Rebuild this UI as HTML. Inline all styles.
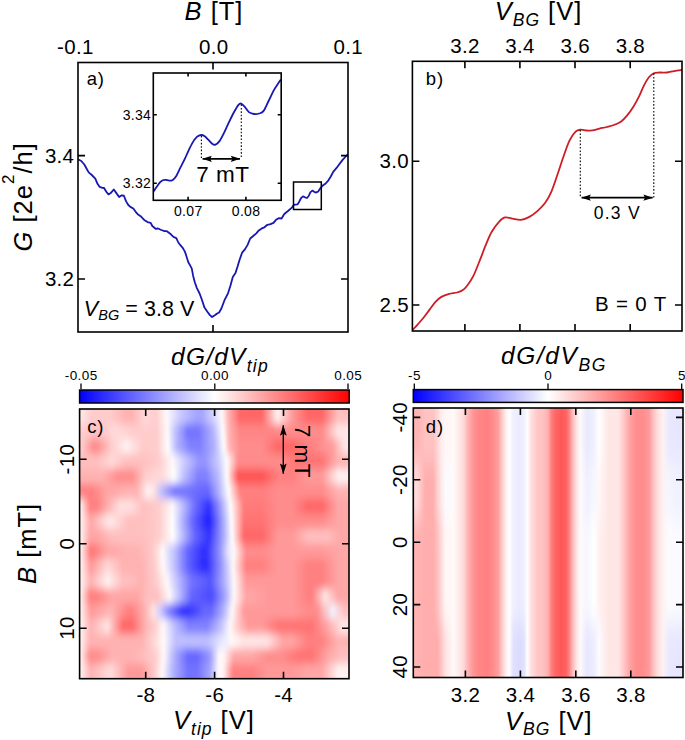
<!DOCTYPE html>
<html><head><meta charset="utf-8"><style>html,body{margin:0;padding:0;background:#fff;overflow:hidden}svg{display:block}</style></head>
<body><svg width="685" height="740" viewBox="0 0 685 740" font-family='"Liberation Sans", sans-serif'>
<defs>
<filter id="blurc" x="-5%" y="-5%" width="110%" height="110%"><feGaussianBlur stdDeviation="0.8 4.5"/></filter>
<clipPath id="clipc"><rect x="79.6" y="409" width="269.4" height="269.70000000000005"/></clipPath>
<filter id="blurd" x="-5%" y="-10%" width="110%" height="120%"><feGaussianBlur stdDeviation="0.5 12"/></filter>
<clipPath id="clipd"><rect x="413.3" y="408" width="269.7" height="269.5"/></clipPath>
<linearGradient id="cbg" x1="0" x2="1" y1="0" y2="0"><stop offset="0" stop-color="#0000ff"/><stop offset="0.5" stop-color="#ffffff"/><stop offset="1" stop-color="#ff0000"/></linearGradient>
<marker id="ah" viewBox="-11 -4 12 8" refX="0" refY="0" markerWidth="12" markerHeight="8" markerUnits="userSpaceOnUse" orient="auto-start-reverse"><path d="M0.3,0 L-9.2,-3.1 L-7.6,0 L-9.2,3.1 Z" fill="#000"/></marker>
<marker id="ahl" viewBox="-12 -4 13 8" refX="0" refY="0" markerWidth="13" markerHeight="8" markerUnits="userSpaceOnUse" orient="auto-start-reverse"><path d="M0.3,0 L-10.4,-3.4 L-8.4,0 L-10.4,3.4 Z" fill="#000"/></marker>
</defs>
<rect width="685" height="740" fill="#fff"/>
<text x="214" y="20" font-size="25.5" text-anchor="middle" letter-spacing="1.0" ><tspan font-style="italic">B</tspan> [T]</text>
<text x="75.35" y="54.3" font-size="20.5" text-anchor="middle" letter-spacing="0.3" >-0.1</text>
<text x="213.75" y="54.3" font-size="20.5" text-anchor="middle" letter-spacing="0.3" >0.0</text>
<text x="348.15" y="54.3" font-size="20.5" text-anchor="middle" letter-spacing="0.3" >0.1</text>
<text x="74.3" y="162.6" font-size="20.5" text-anchor="end" letter-spacing="0.3" >3.4</text>
<text x="74.3" y="286" font-size="20.5" text-anchor="end" letter-spacing="0.3" >3.2</text>
<text transform="translate(31.5,196.8) rotate(-90)" font-size="25.5" letter-spacing="1.0" text-anchor="middle"><tspan font-style="italic">G</tspan> [2e<tspan dy="-17.6" font-size="17">2</tspan><tspan dy="17.6">/h]</tspan></text>
<path d="M78,159.2 L81.3,161 L84.3,164.5 L86.5,168.5 L88.7,172.4 L91.8,175 L95.3,178.6 L97.5,183.8 L99.7,186.9 L102.4,187.8 L104.1,188 L106.3,191.7 L108.5,194.4 L110.7,193.1 L113.8,189.5 L116.4,193.1 L119.1,197 L121.7,195.3 L123.9,195.7 L126.1,201.4 L128.3,205 L130.4,206.9 L133.3,208.5 L135.7,211.8 L137.7,214.2 L140.6,216.2 L144.2,219.9 L147.5,222.1 L150.7,222.9 L152.3,226 L155.6,228.8 L158,228.5 L161.3,230 L164.5,231.2 L166.9,231.2 L170.2,233.7 L173.4,236.9 L176.3,238.1 L178.3,242.5 L180.4,245.2 L182.9,248.1 L185,251.9 L186.6,256.8 L188.3,262.2 L190.4,265.9 L191.8,268.6 L193.1,275.7 L194.8,282.2 L196.9,288.1 L199.6,293.5 L201.8,299.5 L204.5,307.6 L207.2,311.4 L209.9,315.1 L212.1,317 L214.8,315.3 L217.2,313.5 L219.1,312.5 L221.5,308.3 L224.3,300.7 L228.1,293.1 L230.5,285.5 L232.8,277 L235.5,272.9 L237.5,266.8 L239.6,259.8 L242.1,252.7 L245.1,249.1 L247.7,244.6 L250.2,238.5 L253.2,236 L256.3,233.4 L258.8,230.4 L261.8,228.4 L264.4,227.3 L267.4,224.8 L270.5,224.1 L273.5,222.8 L276,219.8 L278.6,218.2 L281.6,218.5 L284.1,214.2 L286.7,212 L288.3,210.8 L291.6,207.9 L293.5,205.2 L295.2,204.6 L297.5,204.4 L299.1,201.9 L301.1,198 L303.1,196.4 L305,197.3 L307,198 L308.7,196 L310.3,192.4 L312.3,190.6 L314.2,191.8 L316.2,192.6 L318.2,191.4 L320.5,188.1 L322.8,185.5 L325.7,183.5 L328.4,180.3 L330.5,177 L333.2,171.8 L337.4,166.8 L342.4,160.1 L346.6,155.5 L348,154.5" fill="none" stroke="#1818b0" stroke-width="1.8" stroke-linejoin="round"/>
<rect x="78" y="62.5" width="270" height="269.5" fill="none" stroke="#000" stroke-width="1.6"/>
<path d="M213,332v-7M213,62.5v7" stroke="#000" stroke-width="1.6" fill="none"/>
<path d="M78,155.6h7M348,155.6h-7M78,279h7M348,279h-7" stroke="#000" stroke-width="1.6" fill="none"/>
<text x="86.7" y="85" font-size="18.5" text-anchor="start" letter-spacing="0.8" >a)</text>
<text x="83.8" y="315.7" font-size="21.5" letter-spacing="0.05"><tspan font-style="italic">V</tspan><tspan font-style="italic" font-size="14.5" dy="4.5">BG</tspan><tspan dy="-4.5"> = 3.8 V</tspan></text>
<rect x="293.5" y="182" width="27.8" height="27.5" fill="none" stroke="#000" stroke-width="1.5"/>
<rect x="153.3" y="73" width="127.9" height="127.3" fill="#fff" stroke="none"/>
<path d="M153.5,191.6 C153.83,191.08 154.78,189.57 155.5,188.5 C156.22,187.43 157.02,186.25 157.8,185.2 C158.58,184.15 159.37,183.03 160.2,182.2 C161.03,181.37 161.9,180.6 162.8,180.2 C163.7,179.8 164.53,179.73 165.6,179.8 C166.67,179.87 168.02,180.58 169.2,180.6 C170.38,180.62 171.52,180.68 172.7,179.9 C173.88,179.12 175,177.98 176.3,175.9 C177.6,173.82 179.08,170.23 180.5,167.4 C181.92,164.57 183.5,161.62 184.8,158.9 C186.1,156.18 187,153.82 188.3,151.1 C189.6,148.38 191.17,144.97 192.6,142.6 C194.03,140.23 195.48,138.17 196.9,136.9 C198.32,135.63 199.8,135.12 201.1,135 C202.4,134.88 203.52,135.42 204.7,136.2 C205.88,136.98 206.9,138.4 208.2,139.7 C209.5,141 211.28,143.18 212.5,144 C213.72,144.82 214.33,145.08 215.5,144.6 C216.67,144.12 218.12,142.98 219.5,141.1 C220.88,139.22 222.22,136.47 223.8,133.3 C225.38,130.13 227.27,125.7 229,122.1 C230.73,118.5 232.62,114.58 234.2,111.7 C235.78,108.82 237.35,106.15 238.5,104.8 C239.65,103.45 240.08,103.3 241.1,103.6 C242.12,103.9 243.3,105.18 244.6,106.6 C245.9,108.02 247.32,110.87 248.9,112.1 C250.48,113.33 252.38,113.77 254.1,114 C255.82,114.23 257.62,114.02 259.2,113.5 C260.78,112.98 262,113.07 263.6,110.9 C265.2,108.73 267.08,103.97 268.8,100.5 C270.52,97.03 272.32,92.98 273.9,90.1 C275.48,87.22 277.12,84.97 278.3,83.2 C279.48,81.43 280.55,80.12 281,79.5" fill="none" stroke="#1818b0" stroke-width="1.8"/>
<rect x="153.3" y="73" width="127.9" height="127.3" fill="none" stroke="#000" stroke-width="1.6"/>
<path d="M188.1,200.3v-3.5M188.1,73v3.5M245.9,200.3v-3.5M245.9,73v3.5" stroke="#000" stroke-width="1.6" fill="none"/>
<path d="M153.3,114.8h3.5M281.2,114.8h-3.5M153.3,183.2h3.5M281.2,183.2h-3.5" stroke="#000" stroke-width="1.6" fill="none"/>
<text x="151.1" y="119.7" font-size="14" text-anchor="end" letter-spacing="0.3" >3.34</text>
<text x="151.1" y="188.1" font-size="14" text-anchor="end" letter-spacing="0.3" >3.32</text>
<text x="188.25" y="215.8" font-size="14" text-anchor="middle" letter-spacing="0.3" >0.07</text>
<text x="246.05" y="215.8" font-size="14" text-anchor="middle" letter-spacing="0.3" >0.08</text>
<path d="M201.4,136 V159 M241.3,104.5 V159" stroke="#000" stroke-width="1.1" stroke-dasharray="1.6 1.8" fill="none"/>
<path d="M202.6,158.8 H240" stroke="#000" stroke-width="1.7" fill="none" marker-start="url(#ah)" marker-end="url(#ah)"/>
<text x="222.85" y="181.8" font-size="22.5" text-anchor="middle" letter-spacing="0.5" >7 mT</text>
<text x="494.7" y="19.8" font-size="25.5" text-anchor="start" letter-spacing="1.0" ><tspan font-style="italic">V</tspan><tspan font-style="italic" font-size="17.5" dy="5.8">BG</tspan><tspan dy="-5.8"> [V]</tspan></text>
<text x="465.05" y="53.3" font-size="20.5" text-anchor="middle" letter-spacing="0.3" >3.2</text>
<text x="520.05" y="53.3" font-size="20.5" text-anchor="middle" letter-spacing="0.3" >3.4</text>
<text x="575.15" y="53.3" font-size="20.5" text-anchor="middle" letter-spacing="0.3" >3.6</text>
<text x="630.35" y="53.3" font-size="20.5" text-anchor="middle" letter-spacing="0.3" >3.8</text>
<text x="408.9" y="168.3" font-size="20.5" text-anchor="end" letter-spacing="0.3" >3.0</text>
<text x="408.9" y="312" font-size="20.5" text-anchor="end" letter-spacing="0.3" >2.5</text>
<path d="M412.4,330.2 C413.3,329.22 415.92,326.42 417.8,324.3 C419.68,322.18 421.73,319.95 423.7,317.5 C425.67,315.05 427.63,312.22 429.6,309.6 C431.57,306.98 433.53,303.92 435.5,301.8 C437.47,299.68 439.12,298.22 441.4,296.9 C443.68,295.58 446.58,294.63 449.2,293.9 C451.82,293.17 454.82,293.15 457.1,292.5 C459.38,291.85 461.2,291.17 462.9,290 C464.6,288.83 465.55,287.87 467.3,285.5 C469.05,283.13 471.37,279.85 473.4,275.8 C475.43,271.75 477.47,266.27 479.5,261.2 C481.53,256.13 483.58,250.27 485.6,245.4 C487.62,240.53 489.37,235.93 491.6,232 C493.83,228.07 496.77,224.23 499,221.8 C501.23,219.37 502.78,217.93 505,217.4 C507.22,216.87 509.65,218.2 512.3,218.6 C514.95,219 518.05,220.08 520.9,219.8 C523.75,219.52 526.57,218.43 529.4,216.9 C532.23,215.37 535.27,212.95 537.9,210.6 C540.53,208.25 542.97,205.93 545.2,202.8 C547.43,199.67 549.27,196.47 551.3,191.8 C553.33,187.13 555.37,180.68 557.4,174.8 C559.43,168.92 561.48,162.18 563.5,156.5 C565.52,150.82 567.48,144.83 569.5,140.7 C571.52,136.57 573.77,133.53 575.6,131.7 C577.43,129.87 578.67,129.9 580.5,129.7 C582.33,129.5 584.63,130.4 586.6,130.5 C588.57,130.6 590.15,130.62 592.3,130.3 C594.45,129.98 597.1,129.15 599.5,128.6 C601.9,128.05 604.3,127.6 606.7,127 C609.1,126.4 611.48,125.93 613.9,125 C616.32,124.07 618.98,123 621.2,121.4 C623.42,119.8 625.2,117.8 627.2,115.4 C629.2,113 631.2,110.22 633.2,107 C635.2,103.78 637.4,99.72 639.2,96.1 C641,92.48 642.38,88.43 644,85.3 C645.62,82.17 647.28,79.32 648.9,77.3 C650.52,75.28 651.9,74 653.7,73.2 C655.5,72.4 657.5,72.62 659.7,72.5 C661.9,72.38 664.5,72.73 666.9,72.5 C669.3,72.27 671.58,71.52 674.1,71.1 C676.62,70.68 680.68,70.18 682,70" fill="none" stroke="#cc1e26" stroke-width="1.8"/>
<rect x="412.4" y="61.3" width="269.6" height="269.7" fill="none" stroke="#000" stroke-width="1.6"/>
<path d="M464.9,331v-7M464.9,61.3v7M519.9,331v-7M519.9,61.3v7M575,331v-7M575,61.3v7M630.2,331v-7M630.2,61.3v7" stroke="#000" stroke-width="1.6" fill="none"/>
<path d="M412.4,161.3h7M682,161.3h-7M412.4,305h7M682,305h-7" stroke="#000" stroke-width="1.6" fill="none"/>
<text x="425.8" y="84.6" font-size="18.5" text-anchor="start" letter-spacing="0.8" >b)</text>
<text x="595.1" y="311.2" font-size="20.5" text-anchor="start" letter-spacing="0.8" >B = 0 T</text>
<path d="M580.3,130 V198 M653.8,73.5 V198" stroke="#000" stroke-width="1.1" stroke-dasharray="1.6 1.8" fill="none"/>
<path d="M581.6,197.7 H652.6" stroke="#000" stroke-width="1.7" fill="none" marker-start="url(#ah)" marker-end="url(#ah)"/>
<text x="617.35" y="219.3" font-size="17.5" text-anchor="middle" letter-spacing="1.3" >0.3 V</text>
<rect x="79.6" y="390" width="269.6" height="13" fill="url(#cbg)" stroke="#000" stroke-width="1.5"/>
<path d="M81,389 V383.5 M214.8,389 V383.5 M348,389 V383.5" stroke="#000" stroke-width="1.3"/>
<text x="81.2" y="379.8" font-size="13.5" text-anchor="middle" letter-spacing="0.4" >-0.05</text>
<text x="215" y="379.8" font-size="13.5" text-anchor="middle" letter-spacing="0.4" >0.00</text>
<text x="348.2" y="379.8" font-size="13.5" text-anchor="middle" letter-spacing="0.4" >0.05</text>
<text x="171" y="364.5" font-size="24.5" letter-spacing="1.25" font-style="italic">dG/dV<tspan font-size="17.5" dy="7">tip</tspan></text>
<defs><linearGradient id="cr0" gradientUnits="userSpaceOnUse" x1="79.6" x2="349" y1="0" y2="0"><stop offset="0.0071" stop-color="#ffe6e6"/><stop offset="0.0460" stop-color="#ffcccc"/><stop offset="0.1128" stop-color="#ffcccc"/><stop offset="0.1722" stop-color="#ffb2b2"/><stop offset="0.1945" stop-color="#ffb2b2"/><stop offset="0.2428" stop-color="#ffd9d9"/><stop offset="0.2836" stop-color="#ffcccc"/><stop offset="0.3226" stop-color="#fffafa"/><stop offset="0.3708" stop-color="#ccccff"/><stop offset="0.4321" stop-color="#a6a6ff"/><stop offset="0.4543" stop-color="#a6a6ff"/><stop offset="0.5007" stop-color="#d9d9ff"/><stop offset="0.5286" stop-color="#fffafa"/><stop offset="0.5527" stop-color="#ffb2b2"/><stop offset="0.5954" stop-color="#ff6666"/><stop offset="0.6771" stop-color="#ff6666"/><stop offset="0.7346" stop-color="#fff2f2"/><stop offset="0.7903" stop-color="#ff9999"/><stop offset="0.8478" stop-color="#ff6666"/><stop offset="0.8998" stop-color="#ff6666"/><stop offset="0.9592" stop-color="#ffbfbf"/><stop offset="0.9703" stop-color="#ffbfbf"/></linearGradient><linearGradient id="cr1" gradientUnits="userSpaceOnUse" x1="79.6" x2="349" y1="0" y2="0"><stop offset="0.0182" stop-color="#ffcccc"/><stop offset="0.0664" stop-color="#ffbfbf"/><stop offset="0.1240" stop-color="#ffd9d9"/><stop offset="0.1388" stop-color="#ffd9d9"/><stop offset="0.1982" stop-color="#ffcccc"/><stop offset="0.2316" stop-color="#ffcccc"/><stop offset="0.2873" stop-color="#ffcccc"/><stop offset="0.3263" stop-color="#fffafa"/><stop offset="0.3560" stop-color="#bfbfff"/><stop offset="0.4024" stop-color="#7373ff"/><stop offset="0.4395" stop-color="#7373ff"/><stop offset="0.4952" stop-color="#b2b2ff"/><stop offset="0.5323" stop-color="#ffffff"/><stop offset="0.5546" stop-color="#ffb2b2"/><stop offset="0.5954" stop-color="#ff8585"/><stop offset="0.7142" stop-color="#ff8585"/><stop offset="0.7736" stop-color="#ff8c8c"/><stop offset="0.8998" stop-color="#ff8c8c"/><stop offset="0.9592" stop-color="#ffe6e6"/><stop offset="0.9703" stop-color="#ffe6e6"/></linearGradient><linearGradient id="cr2" gradientUnits="userSpaceOnUse" x1="79.6" x2="349" y1="0" y2="0"><stop offset="0.0089" stop-color="#ffcccc"/><stop offset="0.0497" stop-color="#ff8c8c"/><stop offset="0.0646" stop-color="#ff8c8c"/><stop offset="0.1184" stop-color="#ffcccc"/><stop offset="0.1741" stop-color="#fff2f2"/><stop offset="0.2335" stop-color="#ffcccc"/><stop offset="0.2873" stop-color="#ffcccc"/><stop offset="0.3281" stop-color="#ffffff"/><stop offset="0.3615" stop-color="#b2b2ff"/><stop offset="0.4098" stop-color="#8080ff"/><stop offset="0.4469" stop-color="#8080ff"/><stop offset="0.5007" stop-color="#b2b2ff"/><stop offset="0.5360" stop-color="#ffffff"/><stop offset="0.5564" stop-color="#ffb2b2"/><stop offset="0.5954" stop-color="#ff8c8c"/><stop offset="0.6771" stop-color="#ff8c8c"/><stop offset="0.7365" stop-color="#ff6666"/><stop offset="0.7884" stop-color="#ff6666"/><stop offset="0.8478" stop-color="#ff8080"/><stop offset="0.8627" stop-color="#ff8080"/><stop offset="0.9220" stop-color="#ff9999"/><stop offset="0.9369" stop-color="#ff9999"/><stop offset="0.9833" stop-color="#ffe6e6"/></linearGradient><linearGradient id="cr3" gradientUnits="userSpaceOnUse" x1="79.6" x2="349" y1="0" y2="0"><stop offset="0.0275" stop-color="#ffbfbf"/><stop offset="0.0646" stop-color="#ffbfbf"/><stop offset="0.1184" stop-color="#ffd9d9"/><stop offset="0.1722" stop-color="#ffbfbf"/><stop offset="0.2316" stop-color="#ffbfbf"/><stop offset="0.2947" stop-color="#ffcccc"/><stop offset="0.3448" stop-color="#fffafa"/><stop offset="0.3875" stop-color="#ccccff"/><stop offset="0.4432" stop-color="#9494ff"/><stop offset="0.4655" stop-color="#9494ff"/><stop offset="0.5156" stop-color="#ccccff"/><stop offset="0.5471" stop-color="#ffffff"/><stop offset="0.5880" stop-color="#ff8c8c"/><stop offset="0.7513" stop-color="#ff8c8c"/><stop offset="0.8107" stop-color="#ff7373"/><stop offset="0.8998" stop-color="#ff7373"/><stop offset="0.9592" stop-color="#ffb2b2"/><stop offset="0.9703" stop-color="#ffb2b2"/></linearGradient><linearGradient id="cr4" gradientUnits="userSpaceOnUse" x1="79.6" x2="349" y1="0" y2="0"><stop offset="0.0275" stop-color="#ffb2b2"/><stop offset="0.0831" stop-color="#ffb2b2"/><stop offset="0.1425" stop-color="#ff8c8c"/><stop offset="0.1945" stop-color="#ff8c8c"/><stop offset="0.2428" stop-color="#ffcccc"/><stop offset="0.2910" stop-color="#ffd9d9"/><stop offset="0.3059" stop-color="#ffd9d9"/><stop offset="0.3504" stop-color="#ffffff"/><stop offset="0.3875" stop-color="#bfbfff"/><stop offset="0.4395" stop-color="#8080ff"/><stop offset="0.4692" stop-color="#8080ff"/><stop offset="0.5174" stop-color="#bfbfff"/><stop offset="0.5471" stop-color="#ffffff"/><stop offset="0.5880" stop-color="#ff5252"/><stop offset="0.6771" stop-color="#ff5252"/><stop offset="0.7365" stop-color="#ff8080"/><stop offset="0.7884" stop-color="#ff8080"/><stop offset="0.8478" stop-color="#ff9999"/><stop offset="0.8998" stop-color="#ff9999"/><stop offset="0.9592" stop-color="#fff2f2"/><stop offset="0.9703" stop-color="#fff2f2"/></linearGradient><linearGradient id="cr5" gradientUnits="userSpaceOnUse" x1="79.6" x2="349" y1="0" y2="0"><stop offset="0.0275" stop-color="#ff8080"/><stop offset="0.0460" stop-color="#ff8080"/><stop offset="0.1054" stop-color="#ffa6a6"/><stop offset="0.1203" stop-color="#ffa6a6"/><stop offset="0.1797" stop-color="#ffb2b2"/><stop offset="0.2131" stop-color="#ffb2b2"/><stop offset="0.2520" stop-color="#fff2f2"/><stop offset="0.2743" stop-color="#ffe6e6"/><stop offset="0.3040" stop-color="#bfbfff"/><stop offset="0.3504" stop-color="#7373ff"/><stop offset="0.3987" stop-color="#7373ff"/><stop offset="0.4581" stop-color="#6666ff"/><stop offset="0.4766" stop-color="#6666ff"/><stop offset="0.5230" stop-color="#bfbfff"/><stop offset="0.5527" stop-color="#ffffff"/><stop offset="0.5954" stop-color="#ff8080"/><stop offset="0.6771" stop-color="#ff8080"/><stop offset="0.7365" stop-color="#ff8c8c"/><stop offset="0.8998" stop-color="#ff8c8c"/><stop offset="0.9592" stop-color="#ffb2b2"/><stop offset="0.9703" stop-color="#ffb2b2"/></linearGradient><linearGradient id="cr6" gradientUnits="userSpaceOnUse" x1="79.6" x2="349" y1="0" y2="0"><stop offset="0.0033" stop-color="#fff2f2"/><stop offset="0.0386" stop-color="#ff8080"/><stop offset="0.0646" stop-color="#ff8080"/><stop offset="0.1073" stop-color="#ffb2b2"/><stop offset="0.1500" stop-color="#ffe0e0"/><stop offset="0.1871" stop-color="#ffe0e0"/><stop offset="0.2390" stop-color="#ffbfbf"/><stop offset="0.2947" stop-color="#ffcccc"/><stop offset="0.3448" stop-color="#fffafa"/><stop offset="0.3820" stop-color="#bfbfff"/><stop offset="0.4246" stop-color="#7373ff"/><stop offset="0.4785" stop-color="#2e2eff"/><stop offset="0.5267" stop-color="#a6a6ff"/><stop offset="0.5601" stop-color="#ffffff"/><stop offset="0.6102" stop-color="#ff7a7a"/><stop offset="0.6771" stop-color="#ff7a7a"/><stop offset="0.7365" stop-color="#ff8c8c"/><stop offset="0.7884" stop-color="#ff8c8c"/><stop offset="0.8478" stop-color="#ff6666"/><stop offset="0.8998" stop-color="#ff6666"/><stop offset="0.9592" stop-color="#ffa6a6"/><stop offset="0.9703" stop-color="#ffa6a6"/></linearGradient><linearGradient id="cr7" gradientUnits="userSpaceOnUse" x1="79.6" x2="349" y1="0" y2="0"><stop offset="0.0033" stop-color="#fff2f2"/><stop offset="0.0423" stop-color="#ffa6a6"/><stop offset="0.1054" stop-color="#ffe6e6"/><stop offset="0.1203" stop-color="#ffe6e6"/><stop offset="0.1797" stop-color="#ffbfbf"/><stop offset="0.2316" stop-color="#ffbfbf"/><stop offset="0.2947" stop-color="#ffcccc"/><stop offset="0.3448" stop-color="#ffffff"/><stop offset="0.3820" stop-color="#b2b2ff"/><stop offset="0.4209" stop-color="#6666ff"/><stop offset="0.4692" stop-color="#2626ff"/><stop offset="0.4840" stop-color="#2626ff"/><stop offset="0.5323" stop-color="#a6a6ff"/><stop offset="0.5638" stop-color="#ffffff"/><stop offset="0.6102" stop-color="#ff7373"/><stop offset="0.6771" stop-color="#ff7373"/><stop offset="0.7365" stop-color="#ff8c8c"/><stop offset="0.8998" stop-color="#ff8c8c"/><stop offset="0.9592" stop-color="#ffa6a6"/><stop offset="0.9703" stop-color="#ffa6a6"/></linearGradient><linearGradient id="cr8" gradientUnits="userSpaceOnUse" x1="79.6" x2="349" y1="0" y2="0"><stop offset="0.0033" stop-color="#fff2f2"/><stop offset="0.0386" stop-color="#ffa6a6"/><stop offset="0.0646" stop-color="#ffa6a6"/><stop offset="0.1240" stop-color="#ffbfbf"/><stop offset="0.2316" stop-color="#ffbfbf"/><stop offset="0.2947" stop-color="#ffcccc"/><stop offset="0.3467" stop-color="#ffffff"/><stop offset="0.3875" stop-color="#b2b2ff"/><stop offset="0.4284" stop-color="#6666ff"/><stop offset="0.4803" stop-color="#3333ff"/><stop offset="0.5323" stop-color="#a6a6ff"/><stop offset="0.5657" stop-color="#ffffff"/><stop offset="0.6102" stop-color="#ff6666"/><stop offset="0.6771" stop-color="#ff6666"/><stop offset="0.7365" stop-color="#ff9999"/><stop offset="0.7884" stop-color="#ff9999"/><stop offset="0.8478" stop-color="#ffbfbf"/><stop offset="0.9183" stop-color="#ffbfbf"/><stop offset="0.9740" stop-color="#ffa6a6"/></linearGradient><linearGradient id="cr9" gradientUnits="userSpaceOnUse" x1="79.6" x2="349" y1="0" y2="0"><stop offset="0.0033" stop-color="#fff2f2"/><stop offset="0.0423" stop-color="#ff7373"/><stop offset="0.1054" stop-color="#ffa6a6"/><stop offset="0.1203" stop-color="#ffa6a6"/><stop offset="0.1797" stop-color="#ffb2b2"/><stop offset="0.2131" stop-color="#ffb2b2"/><stop offset="0.2520" stop-color="#ffbfbf"/><stop offset="0.2743" stop-color="#ffcccc"/><stop offset="0.3077" stop-color="#fffafa"/><stop offset="0.3523" stop-color="#bfbfff"/><stop offset="0.4005" stop-color="#6666ff"/><stop offset="0.4543" stop-color="#3333ff"/><stop offset="0.4729" stop-color="#3333ff"/><stop offset="0.5230" stop-color="#9999ff"/><stop offset="0.5509" stop-color="#e6e6ff"/><stop offset="0.5731" stop-color="#fffafa"/><stop offset="0.6177" stop-color="#ff8c8c"/><stop offset="0.6771" stop-color="#ff8c8c"/><stop offset="0.7365" stop-color="#ff9999"/><stop offset="0.8998" stop-color="#ff9999"/><stop offset="0.9592" stop-color="#ffa6a6"/><stop offset="0.9703" stop-color="#ffa6a6"/></linearGradient><linearGradient id="cr10" gradientUnits="userSpaceOnUse" x1="79.6" x2="349" y1="0" y2="0"><stop offset="0.0033" stop-color="#fff2f2"/><stop offset="0.0423" stop-color="#ff9999"/><stop offset="0.1036" stop-color="#ffd9d9"/><stop offset="0.1611" stop-color="#ffb2b2"/><stop offset="0.2316" stop-color="#ffb2b2"/><stop offset="0.2780" stop-color="#ffcccc"/><stop offset="0.3114" stop-color="#fffafa"/><stop offset="0.3523" stop-color="#bfbfff"/><stop offset="0.4005" stop-color="#6666ff"/><stop offset="0.4543" stop-color="#2e2eff"/><stop offset="0.4729" stop-color="#2e2eff"/><stop offset="0.5267" stop-color="#9999ff"/><stop offset="0.5694" stop-color="#fffafa"/><stop offset="0.6177" stop-color="#ff8080"/><stop offset="0.6771" stop-color="#ff8080"/><stop offset="0.7365" stop-color="#ff9999"/><stop offset="0.7884" stop-color="#ff9999"/><stop offset="0.8478" stop-color="#ff8080"/><stop offset="0.8998" stop-color="#ff8080"/><stop offset="0.9592" stop-color="#ffa6a6"/><stop offset="0.9703" stop-color="#ffa6a6"/></linearGradient><linearGradient id="cr11" gradientUnits="userSpaceOnUse" x1="79.6" x2="349" y1="0" y2="0"><stop offset="0.0033" stop-color="#fff2f2"/><stop offset="0.0423" stop-color="#ffb2b2"/><stop offset="0.1036" stop-color="#fff2f2"/><stop offset="0.1611" stop-color="#ffbfbf"/><stop offset="0.1759" stop-color="#ffbfbf"/><stop offset="0.2335" stop-color="#ffb2b2"/><stop offset="0.2836" stop-color="#ffcccc"/><stop offset="0.3244" stop-color="#fffafa"/><stop offset="0.3634" stop-color="#bfbfff"/><stop offset="0.4154" stop-color="#7373ff"/><stop offset="0.4766" stop-color="#5959ff"/><stop offset="0.4878" stop-color="#5959ff"/><stop offset="0.5379" stop-color="#b2b2ff"/><stop offset="0.5731" stop-color="#fffafa"/><stop offset="0.6177" stop-color="#ff9999"/><stop offset="0.7884" stop-color="#ff9999"/><stop offset="0.8478" stop-color="#ff8080"/><stop offset="0.8998" stop-color="#ff8080"/><stop offset="0.9592" stop-color="#ffa6a6"/><stop offset="0.9703" stop-color="#ffa6a6"/></linearGradient><linearGradient id="cr12" gradientUnits="userSpaceOnUse" x1="79.6" x2="349" y1="0" y2="0"><stop offset="0.0033" stop-color="#fff2f2"/><stop offset="0.0386" stop-color="#ff8080"/><stop offset="0.0646" stop-color="#ff8080"/><stop offset="0.1240" stop-color="#ffa6a6"/><stop offset="0.2131" stop-color="#ffa6a6"/><stop offset="0.2520" stop-color="#ffbfbf"/><stop offset="0.2873" stop-color="#ffbfbf"/><stop offset="0.3337" stop-color="#fffafa"/><stop offset="0.3690" stop-color="#bfbfff"/><stop offset="0.4154" stop-color="#6666ff"/><stop offset="0.4766" stop-color="#4d4dff"/><stop offset="0.4915" stop-color="#4d4dff"/><stop offset="0.5397" stop-color="#a6a6ff"/><stop offset="0.5731" stop-color="#fffafa"/><stop offset="0.6177" stop-color="#ffa6a6"/><stop offset="0.6399" stop-color="#ffa6a6"/><stop offset="0.6993" stop-color="#ff9999"/><stop offset="0.7884" stop-color="#ff9999"/><stop offset="0.8478" stop-color="#ff8080"/><stop offset="0.8627" stop-color="#ff8080"/><stop offset="0.9109" stop-color="#ffe6e6"/><stop offset="0.9592" stop-color="#ffa6a6"/><stop offset="0.9703" stop-color="#ffa6a6"/></linearGradient><linearGradient id="cr13" gradientUnits="userSpaceOnUse" x1="79.6" x2="349" y1="0" y2="0"><stop offset="0.0033" stop-color="#fff2f2"/><stop offset="0.0423" stop-color="#ff9999"/><stop offset="0.1054" stop-color="#ffb2b2"/><stop offset="0.1203" stop-color="#ffb2b2"/><stop offset="0.1797" stop-color="#ff8080"/><stop offset="0.1945" stop-color="#ff8080"/><stop offset="0.2428" stop-color="#ffb2b2"/><stop offset="0.2743" stop-color="#ffe6e6"/><stop offset="0.3003" stop-color="#ccccff"/><stop offset="0.3318" stop-color="#8080ff"/><stop offset="0.3801" stop-color="#2e2eff"/><stop offset="0.4024" stop-color="#2e2eff"/><stop offset="0.4618" stop-color="#6666ff"/><stop offset="0.4878" stop-color="#6666ff"/><stop offset="0.5341" stop-color="#b2b2ff"/><stop offset="0.5657" stop-color="#fffafa"/><stop offset="0.6102" stop-color="#ff9999"/><stop offset="0.7884" stop-color="#ff9999"/><stop offset="0.8478" stop-color="#ff8c8c"/><stop offset="0.8812" stop-color="#ff8c8c"/><stop offset="0.9388" stop-color="#f2f2ff"/><stop offset="0.9833" stop-color="#ffbfbf"/></linearGradient><linearGradient id="cr14" gradientUnits="userSpaceOnUse" x1="79.6" x2="349" y1="0" y2="0"><stop offset="0.0033" stop-color="#fff2f2"/><stop offset="0.0423" stop-color="#ffb2b2"/><stop offset="0.1036" stop-color="#ffe6e6"/><stop offset="0.1611" stop-color="#ff6666"/><stop offset="0.1945" stop-color="#ff6666"/><stop offset="0.2428" stop-color="#ffb2b2"/><stop offset="0.2780" stop-color="#ffcccc"/><stop offset="0.3114" stop-color="#fffafa"/><stop offset="0.3523" stop-color="#bfbfff"/><stop offset="0.4061" stop-color="#8080ff"/><stop offset="0.4729" stop-color="#8080ff"/><stop offset="0.5230" stop-color="#bfbfff"/><stop offset="0.5583" stop-color="#fffafa"/><stop offset="0.5843" stop-color="#ffcccc"/><stop offset="0.6251" stop-color="#ff9999"/><stop offset="0.6771" stop-color="#ff9999"/><stop offset="0.7365" stop-color="#ff7373"/><stop offset="0.8627" stop-color="#ff7373"/><stop offset="0.9202" stop-color="#ffa6a6"/><stop offset="0.9740" stop-color="#ffe6e6"/></linearGradient><linearGradient id="cr15" gradientUnits="userSpaceOnUse" x1="79.6" x2="349" y1="0" y2="0"><stop offset="0.0033" stop-color="#fff2f2"/><stop offset="0.0386" stop-color="#ffb2b2"/><stop offset="0.2316" stop-color="#ffb2b2"/><stop offset="0.2780" stop-color="#ffd9d9"/><stop offset="0.3114" stop-color="#fffafa"/><stop offset="0.3578" stop-color="#bfbfff"/><stop offset="0.4729" stop-color="#bfbfff"/><stop offset="0.5267" stop-color="#e6e6ff"/><stop offset="0.5657" stop-color="#fffafa"/><stop offset="0.6102" stop-color="#ffe6e6"/><stop offset="0.6956" stop-color="#ffe6e6"/><stop offset="0.7550" stop-color="#ffa6a6"/><stop offset="0.7884" stop-color="#ffa6a6"/><stop offset="0.8478" stop-color="#ff8080"/><stop offset="0.8998" stop-color="#ff8080"/><stop offset="0.9592" stop-color="#ffb2b2"/><stop offset="0.9703" stop-color="#ffb2b2"/></linearGradient><linearGradient id="cr16" gradientUnits="userSpaceOnUse" x1="79.6" x2="349" y1="0" y2="0"><stop offset="0.0033" stop-color="#fff2f2"/><stop offset="0.0386" stop-color="#ff8c8c"/><stop offset="0.0646" stop-color="#ff8c8c"/><stop offset="0.1240" stop-color="#ffb2b2"/><stop offset="0.1945" stop-color="#ffb2b2"/><stop offset="0.2428" stop-color="#ffbfbf"/><stop offset="0.2799" stop-color="#ffcccc"/><stop offset="0.3133" stop-color="#fffafa"/><stop offset="0.3504" stop-color="#b2b2ff"/><stop offset="0.4024" stop-color="#6666ff"/><stop offset="0.4358" stop-color="#6666ff"/><stop offset="0.4840" stop-color="#9999ff"/><stop offset="0.5174" stop-color="#fffafa"/><stop offset="0.5379" stop-color="#fff2f2"/><stop offset="0.5731" stop-color="#ffa6a6"/><stop offset="0.6399" stop-color="#ffa6a6"/><stop offset="0.6993" stop-color="#ff8c8c"/><stop offset="0.7513" stop-color="#ff8c8c"/><stop offset="0.8107" stop-color="#ff7373"/><stop offset="0.8627" stop-color="#ff7373"/><stop offset="0.9202" stop-color="#ffa6a6"/><stop offset="0.9740" stop-color="#ffbfbf"/></linearGradient><linearGradient id="cr17" gradientUnits="userSpaceOnUse" x1="79.6" x2="349" y1="0" y2="0"><stop offset="0.0033" stop-color="#fff2f2"/><stop offset="0.0423" stop-color="#ffb2b2"/><stop offset="0.1054" stop-color="#ffd9d9"/><stop offset="0.1203" stop-color="#ffd9d9"/><stop offset="0.1797" stop-color="#ff9999"/><stop offset="0.2316" stop-color="#ff9999"/><stop offset="0.2780" stop-color="#ffcccc"/><stop offset="0.3077" stop-color="#fffafa"/><stop offset="0.3467" stop-color="#b2b2ff"/><stop offset="0.4024" stop-color="#7373ff"/><stop offset="0.4358" stop-color="#7373ff"/><stop offset="0.4840" stop-color="#a6a6ff"/><stop offset="0.5156" stop-color="#fffafa"/><stop offset="0.5341" stop-color="#fff2f2"/><stop offset="0.5694" stop-color="#ff8080"/><stop offset="0.6399" stop-color="#ff8080"/><stop offset="0.6993" stop-color="#ff9999"/><stop offset="0.7884" stop-color="#ff9999"/><stop offset="0.8478" stop-color="#ffa6a6"/><stop offset="0.8998" stop-color="#ffa6a6"/><stop offset="0.9592" stop-color="#fff2f2"/><stop offset="0.9703" stop-color="#fff2f2"/></linearGradient></defs>
<g clip-path="url(#clipc)"><g filter="url(#blurc)"><rect x="75.6" y="379.03" width="277.4" height="15.48" fill="url(#cr0)"/><rect x="75.6" y="394.02" width="277.4" height="15.48" fill="url(#cr0)"/><rect x="75.6" y="409" width="277.4" height="15.48" fill="url(#cr0)"/><rect x="75.6" y="423.98" width="277.4" height="15.48" fill="url(#cr1)"/><rect x="75.6" y="438.97" width="277.4" height="15.48" fill="url(#cr2)"/><rect x="75.6" y="453.95" width="277.4" height="15.48" fill="url(#cr3)"/><rect x="75.6" y="468.93" width="277.4" height="15.48" fill="url(#cr4)"/><rect x="75.6" y="483.92" width="277.4" height="15.48" fill="url(#cr5)"/><rect x="75.6" y="498.9" width="277.4" height="15.48" fill="url(#cr6)"/><rect x="75.6" y="513.88" width="277.4" height="15.48" fill="url(#cr7)"/><rect x="75.6" y="528.87" width="277.4" height="15.48" fill="url(#cr8)"/><rect x="75.6" y="543.85" width="277.4" height="15.48" fill="url(#cr9)"/><rect x="75.6" y="558.83" width="277.4" height="15.48" fill="url(#cr10)"/><rect x="75.6" y="573.82" width="277.4" height="15.48" fill="url(#cr11)"/><rect x="75.6" y="588.8" width="277.4" height="15.48" fill="url(#cr12)"/><rect x="75.6" y="603.78" width="277.4" height="15.48" fill="url(#cr13)"/><rect x="75.6" y="618.77" width="277.4" height="15.48" fill="url(#cr14)"/><rect x="75.6" y="633.75" width="277.4" height="15.48" fill="url(#cr15)"/><rect x="75.6" y="648.73" width="277.4" height="15.48" fill="url(#cr16)"/><rect x="75.6" y="663.72" width="277.4" height="15.48" fill="url(#cr17)"/><rect x="75.6" y="678.7" width="277.4" height="15.48" fill="url(#cr17)"/><rect x="75.6" y="693.68" width="277.4" height="15.48" fill="url(#cr17)"/></g></g>
<rect x="79.6" y="409" width="269.4" height="269.7" fill="none" stroke="#000" stroke-width="1.6"/>
<path d="M145.7,678.7v-7M145.7,409v7M214.6,678.7v-7M214.6,409v7M283.5,678.7v-7M283.5,409v7" stroke="#000" stroke-width="1.6" fill="none"/>
<path d="M79.6,459.3h7M349,459.3h-7M79.6,543.7h7M349,543.7h-7M79.6,628.2h7M349,628.2h-7" stroke="#000" stroke-width="1.6" fill="none"/>
<text x="145.85" y="701.6" font-size="20.5" text-anchor="middle" letter-spacing="0.3" >-8</text>
<text x="214.75" y="701.6" font-size="20.5" text-anchor="middle" letter-spacing="0.3" >-6</text>
<text x="283.65" y="701.6" font-size="20.5" text-anchor="middle" letter-spacing="0.3" >-4</text>
<text transform="translate(73.6,459.3) rotate(-90)" x="0.15" y="0" font-size="20.5" text-anchor="middle" letter-spacing="0.3" >-10</text>
<text transform="translate(73.6,543.7) rotate(-90)" x="0.15" y="0" font-size="20.5" text-anchor="middle" letter-spacing="0.3" >0</text>
<text transform="translate(73.6,628.2) rotate(-90)" x="0.15" y="0" font-size="20.5" text-anchor="middle" letter-spacing="0.3" >10</text>
<text x="173" y="729" font-size="25.5" text-anchor="start" letter-spacing="1.0" ><tspan font-style="italic">V</tspan><tspan font-style="italic" font-size="17.5" dy="5.8">tip</tspan><tspan dy="-5.8"> [V]</tspan></text>
<text transform="translate(36.2,543.9) rotate(-90)" x="0.5" y="0" font-size="25.5" text-anchor="middle" letter-spacing="1.0" ><tspan font-style="italic">B</tspan> [mT]</text>
<text x="87.3" y="432.9" font-size="18.5" text-anchor="start" letter-spacing="0.8" >c)</text>
<path d="M283.3,425.3 V473.8" stroke="#000" stroke-width="1.4" fill="none" marker-start="url(#ahl)" marker-end="url(#ahl)"/>
<text transform="translate(295,451) rotate(90)" x="0.25" y="0" font-size="22.5" text-anchor="middle" letter-spacing="0.5" >7 mT</text>
<rect x="413.3" y="389.6" width="269.7" height="12.8" fill="url(#cbg)" stroke="#000" stroke-width="1.5"/>
<path d="M414.3,389 V383.5 M548,389 V383.5 M681.7,389 V383.5" stroke="#000" stroke-width="1.3"/>
<text x="414.5" y="379.8" font-size="13.5" text-anchor="middle" letter-spacing="0.4" >-5</text>
<text x="548.2" y="379.8" font-size="13.5" text-anchor="middle" letter-spacing="0.4" >0</text>
<text x="681.9" y="379.8" font-size="13.5" text-anchor="middle" letter-spacing="0.4" >5</text>
<text x="501" y="364" font-size="24.5" letter-spacing="1.6" font-style="italic">dG/dV<tspan font-size="17.5" dy="7">BG</tspan></text>
<defs><linearGradient id="dr0" gradientUnits="userSpaceOnUse" x1="413.3" x2="683" y1="0" y2="0"><stop offset="0.0000" stop-color="#ffb8b8"/><stop offset="0.0148" stop-color="#ffb2b2"/><stop offset="0.0444" stop-color="#ffc2c2"/><stop offset="0.0741" stop-color="#ffc2c2"/><stop offset="0.0889" stop-color="#ffd4d4"/><stop offset="0.1037" stop-color="#ffeded"/><stop offset="0.1185" stop-color="#fff5f5"/><stop offset="0.1481" stop-color="#fffafa"/><stop offset="0.1667" stop-color="#ffebeb"/><stop offset="0.1852" stop-color="#ffdbdb"/><stop offset="0.2037" stop-color="#ffb2b2"/><stop offset="0.2222" stop-color="#ff9494"/><stop offset="0.2444" stop-color="#ff8585"/><stop offset="0.2741" stop-color="#ff8080"/><stop offset="0.2963" stop-color="#ff8c8c"/><stop offset="0.3148" stop-color="#ff9e9e"/><stop offset="0.3296" stop-color="#ffcccc"/><stop offset="0.3444" stop-color="#fff0f0"/><stop offset="0.3556" stop-color="#ffffff"/><stop offset="0.3704" stop-color="#f0f0ff"/><stop offset="0.3926" stop-color="#ebebff"/><stop offset="0.4111" stop-color="#f0f0ff"/><stop offset="0.4222" stop-color="#ffffff"/><stop offset="0.4370" stop-color="#ffe0e0"/><stop offset="0.4593" stop-color="#ffc7c7"/><stop offset="0.4852" stop-color="#ffbfbf"/><stop offset="0.5000" stop-color="#ffadad"/><stop offset="0.5111" stop-color="#ff8080"/><stop offset="0.5259" stop-color="#ff6666"/><stop offset="0.5481" stop-color="#ff5757"/><stop offset="0.5667" stop-color="#ff6161"/><stop offset="0.5778" stop-color="#ff8080"/><stop offset="0.5889" stop-color="#ffb2b2"/><stop offset="0.6037" stop-color="#ffe0e0"/><stop offset="0.6185" stop-color="#fffafa"/><stop offset="0.6444" stop-color="#e8e8ff"/><stop offset="0.6704" stop-color="#f0f0ff"/><stop offset="0.6889" stop-color="#ffffff"/><stop offset="0.7222" stop-color="#ffe6e6"/><stop offset="0.7593" stop-color="#ffe6e6"/><stop offset="0.7778" stop-color="#ffcccc"/><stop offset="0.7963" stop-color="#ffadad"/><stop offset="0.8111" stop-color="#ff9999"/><stop offset="0.8296" stop-color="#ff8c8c"/><stop offset="0.8519" stop-color="#ff8c8c"/><stop offset="0.8741" stop-color="#ff9999"/><stop offset="0.8889" stop-color="#ffbfbf"/><stop offset="0.9074" stop-color="#ffe0e0"/><stop offset="0.9259" stop-color="#fff2f2"/><stop offset="0.9481" stop-color="#e8e8ff"/><stop offset="0.9704" stop-color="#e6e6ff"/><stop offset="1.0000" stop-color="#e6e6ff"/></linearGradient><linearGradient id="dr1" gradientUnits="userSpaceOnUse" x1="413.3" x2="683" y1="0" y2="0"><stop offset="0.0000" stop-color="#ffb8b8"/><stop offset="0.0148" stop-color="#ffb2b2"/><stop offset="0.0444" stop-color="#ffc2c2"/><stop offset="0.0741" stop-color="#ffc2c2"/><stop offset="0.0889" stop-color="#ffd4d4"/><stop offset="0.1037" stop-color="#ffeded"/><stop offset="0.1185" stop-color="#fff5f5"/><stop offset="0.1481" stop-color="#fffafa"/><stop offset="0.1667" stop-color="#ffebeb"/><stop offset="0.1852" stop-color="#ffdbdb"/><stop offset="0.2037" stop-color="#ffb2b2"/><stop offset="0.2222" stop-color="#ff9494"/><stop offset="0.2444" stop-color="#ff8585"/><stop offset="0.2741" stop-color="#ff8080"/><stop offset="0.2963" stop-color="#ff8c8c"/><stop offset="0.3148" stop-color="#ff9e9e"/><stop offset="0.3296" stop-color="#ffcccc"/><stop offset="0.3444" stop-color="#fff0f0"/><stop offset="0.3556" stop-color="#ffffff"/><stop offset="0.3704" stop-color="#f0f0ff"/><stop offset="0.3926" stop-color="#ebebff"/><stop offset="0.4111" stop-color="#f0f0ff"/><stop offset="0.4222" stop-color="#ffffff"/><stop offset="0.4370" stop-color="#ffe0e0"/><stop offset="0.4593" stop-color="#ffc7c7"/><stop offset="0.4852" stop-color="#ffbfbf"/><stop offset="0.5000" stop-color="#ffadad"/><stop offset="0.5111" stop-color="#ff8080"/><stop offset="0.5259" stop-color="#ff6666"/><stop offset="0.5481" stop-color="#ff5757"/><stop offset="0.5667" stop-color="#ff6161"/><stop offset="0.5778" stop-color="#ff8080"/><stop offset="0.5889" stop-color="#ffb2b2"/><stop offset="0.6037" stop-color="#ffe0e0"/><stop offset="0.6185" stop-color="#fffafa"/><stop offset="0.6444" stop-color="#e8e8ff"/><stop offset="0.6704" stop-color="#f0f0ff"/><stop offset="0.6889" stop-color="#ffffff"/><stop offset="0.7222" stop-color="#ffe6e6"/><stop offset="0.7593" stop-color="#ffe6e6"/><stop offset="0.7778" stop-color="#ffcccc"/><stop offset="0.7963" stop-color="#ffadad"/><stop offset="0.8111" stop-color="#ff9999"/><stop offset="0.8296" stop-color="#ff8c8c"/><stop offset="0.8519" stop-color="#ff8c8c"/><stop offset="0.8741" stop-color="#ff9999"/><stop offset="0.8889" stop-color="#ffbfbf"/><stop offset="0.9074" stop-color="#ffe0e0"/><stop offset="0.9259" stop-color="#fff2f2"/><stop offset="0.9481" stop-color="#e8e8ff"/><stop offset="0.9704" stop-color="#e6e6ff"/><stop offset="1.0000" stop-color="#e6e6ff"/></linearGradient><linearGradient id="dr2" gradientUnits="userSpaceOnUse" x1="413.3" x2="683" y1="0" y2="0"><stop offset="0.0000" stop-color="#ffdede"/><stop offset="0.0148" stop-color="#ffd9d9"/><stop offset="0.0444" stop-color="#ffadad"/><stop offset="0.0741" stop-color="#ffadad"/><stop offset="0.0889" stop-color="#ffcfcf"/><stop offset="0.1037" stop-color="#ffe8e8"/><stop offset="0.1185" stop-color="#fafaff"/><stop offset="0.1481" stop-color="#fffafa"/><stop offset="0.1667" stop-color="#ffebeb"/><stop offset="0.1852" stop-color="#ffdbdb"/><stop offset="0.2037" stop-color="#ffb2b2"/><stop offset="0.2222" stop-color="#ff9494"/><stop offset="0.2444" stop-color="#ff8585"/><stop offset="0.2741" stop-color="#ff8080"/><stop offset="0.2963" stop-color="#ff8c8c"/><stop offset="0.3148" stop-color="#ff9e9e"/><stop offset="0.3296" stop-color="#ffcccc"/><stop offset="0.3444" stop-color="#fff0f0"/><stop offset="0.3556" stop-color="#ffffff"/><stop offset="0.3704" stop-color="#f0f0ff"/><stop offset="0.3926" stop-color="#ebebff"/><stop offset="0.4111" stop-color="#f0f0ff"/><stop offset="0.4222" stop-color="#ffffff"/><stop offset="0.4370" stop-color="#ffe0e0"/><stop offset="0.4593" stop-color="#ffc7c7"/><stop offset="0.4852" stop-color="#ffbfbf"/><stop offset="0.5000" stop-color="#ffadad"/><stop offset="0.5111" stop-color="#ff8080"/><stop offset="0.5259" stop-color="#ff6666"/><stop offset="0.5481" stop-color="#ff5757"/><stop offset="0.5667" stop-color="#ff6161"/><stop offset="0.5778" stop-color="#ff8080"/><stop offset="0.5889" stop-color="#ffb2b2"/><stop offset="0.6037" stop-color="#ffe0e0"/><stop offset="0.6185" stop-color="#fffafa"/><stop offset="0.6444" stop-color="#f0f0ff"/><stop offset="0.6704" stop-color="#f7f7ff"/><stop offset="0.6889" stop-color="#fff7f7"/><stop offset="0.7222" stop-color="#ffe6e6"/><stop offset="0.7593" stop-color="#ffe6e6"/><stop offset="0.7778" stop-color="#ffcccc"/><stop offset="0.7963" stop-color="#ffadad"/><stop offset="0.8111" stop-color="#ff9999"/><stop offset="0.8296" stop-color="#ff8c8c"/><stop offset="0.8519" stop-color="#ff8c8c"/><stop offset="0.8741" stop-color="#ff9999"/><stop offset="0.8889" stop-color="#ffbfbf"/><stop offset="0.9074" stop-color="#ffe0e0"/><stop offset="0.9259" stop-color="#fff2f2"/><stop offset="0.9481" stop-color="#f5f5ff"/><stop offset="0.9704" stop-color="#f2f2ff"/><stop offset="1.0000" stop-color="#f2f2ff"/></linearGradient><linearGradient id="dr3" gradientUnits="userSpaceOnUse" x1="413.3" x2="683" y1="0" y2="0"><stop offset="0.0000" stop-color="#ffb8b8"/><stop offset="0.0148" stop-color="#ffb2b2"/><stop offset="0.0444" stop-color="#ffadad"/><stop offset="0.0741" stop-color="#ffadad"/><stop offset="0.0889" stop-color="#ffbfbf"/><stop offset="0.1037" stop-color="#ffd9d9"/><stop offset="0.1185" stop-color="#fff5f5"/><stop offset="0.1481" stop-color="#fffafa"/><stop offset="0.1667" stop-color="#ffebeb"/><stop offset="0.1852" stop-color="#ffdbdb"/><stop offset="0.2037" stop-color="#ffb2b2"/><stop offset="0.2222" stop-color="#ff9494"/><stop offset="0.2444" stop-color="#ff8585"/><stop offset="0.2741" stop-color="#ff8080"/><stop offset="0.2963" stop-color="#ff8c8c"/><stop offset="0.3148" stop-color="#ff9e9e"/><stop offset="0.3296" stop-color="#ffcccc"/><stop offset="0.3444" stop-color="#fff0f0"/><stop offset="0.3556" stop-color="#ffffff"/><stop offset="0.3704" stop-color="#f0f0ff"/><stop offset="0.3926" stop-color="#ebebff"/><stop offset="0.4111" stop-color="#f0f0ff"/><stop offset="0.4222" stop-color="#ffffff"/><stop offset="0.4370" stop-color="#ffe0e0"/><stop offset="0.4593" stop-color="#ffc7c7"/><stop offset="0.4852" stop-color="#ffbfbf"/><stop offset="0.5000" stop-color="#ffadad"/><stop offset="0.5111" stop-color="#ff8080"/><stop offset="0.5259" stop-color="#ff6666"/><stop offset="0.5481" stop-color="#ff5757"/><stop offset="0.5667" stop-color="#ff6161"/><stop offset="0.5778" stop-color="#ff8080"/><stop offset="0.5889" stop-color="#ffb2b2"/><stop offset="0.6037" stop-color="#ffe0e0"/><stop offset="0.6185" stop-color="#fffafa"/><stop offset="0.6444" stop-color="#f7f7ff"/><stop offset="0.6704" stop-color="#ffffff"/><stop offset="0.6889" stop-color="#fff0f0"/><stop offset="0.7222" stop-color="#ffe6e6"/><stop offset="0.7593" stop-color="#ffe6e6"/><stop offset="0.7778" stop-color="#ffcccc"/><stop offset="0.7963" stop-color="#ffadad"/><stop offset="0.8111" stop-color="#ff9999"/><stop offset="0.8296" stop-color="#ff8c8c"/><stop offset="0.8519" stop-color="#ff8c8c"/><stop offset="0.8741" stop-color="#ff9999"/><stop offset="0.8889" stop-color="#ffbfbf"/><stop offset="0.9074" stop-color="#ffe0e0"/><stop offset="0.9259" stop-color="#fff2f2"/><stop offset="0.9481" stop-color="#fcfcff"/><stop offset="0.9704" stop-color="#fafaff"/><stop offset="1.0000" stop-color="#fafaff"/></linearGradient><linearGradient id="dr4" gradientUnits="userSpaceOnUse" x1="413.3" x2="683" y1="0" y2="0"><stop offset="0.0000" stop-color="#ffb8b8"/><stop offset="0.0148" stop-color="#ffb2b2"/><stop offset="0.0444" stop-color="#ffadad"/><stop offset="0.0741" stop-color="#ffadad"/><stop offset="0.0889" stop-color="#ffbfbf"/><stop offset="0.1037" stop-color="#ffd9d9"/><stop offset="0.1185" stop-color="#fff5f5"/><stop offset="0.1481" stop-color="#fffafa"/><stop offset="0.1667" stop-color="#ffebeb"/><stop offset="0.1852" stop-color="#ffdbdb"/><stop offset="0.2037" stop-color="#ffb2b2"/><stop offset="0.2222" stop-color="#ff9494"/><stop offset="0.2444" stop-color="#ff8585"/><stop offset="0.2741" stop-color="#ff8080"/><stop offset="0.2963" stop-color="#ff8c8c"/><stop offset="0.3148" stop-color="#ff9e9e"/><stop offset="0.3296" stop-color="#ffcccc"/><stop offset="0.3444" stop-color="#fff0f0"/><stop offset="0.3556" stop-color="#ffffff"/><stop offset="0.3704" stop-color="#f0f0ff"/><stop offset="0.3926" stop-color="#ebebff"/><stop offset="0.4111" stop-color="#f0f0ff"/><stop offset="0.4222" stop-color="#ffffff"/><stop offset="0.4370" stop-color="#ffe0e0"/><stop offset="0.4593" stop-color="#ffc7c7"/><stop offset="0.4852" stop-color="#ffbfbf"/><stop offset="0.5000" stop-color="#ffadad"/><stop offset="0.5111" stop-color="#ff8080"/><stop offset="0.5259" stop-color="#ff6666"/><stop offset="0.5481" stop-color="#ff5757"/><stop offset="0.5667" stop-color="#ff6161"/><stop offset="0.5778" stop-color="#ff8080"/><stop offset="0.5889" stop-color="#ffb2b2"/><stop offset="0.6037" stop-color="#ffe0e0"/><stop offset="0.6185" stop-color="#fffafa"/><stop offset="0.6444" stop-color="#f7f7ff"/><stop offset="0.6704" stop-color="#ffffff"/><stop offset="0.6889" stop-color="#fff0f0"/><stop offset="0.7222" stop-color="#ffe6e6"/><stop offset="0.7593" stop-color="#ffe6e6"/><stop offset="0.7778" stop-color="#ffcccc"/><stop offset="0.7963" stop-color="#ffadad"/><stop offset="0.8111" stop-color="#ff9999"/><stop offset="0.8296" stop-color="#ff8c8c"/><stop offset="0.8519" stop-color="#ff8c8c"/><stop offset="0.8741" stop-color="#ff9999"/><stop offset="0.8889" stop-color="#ffbfbf"/><stop offset="0.9074" stop-color="#ffe0e0"/><stop offset="0.9259" stop-color="#fff2f2"/><stop offset="0.9481" stop-color="#fcfcff"/><stop offset="0.9704" stop-color="#fafaff"/><stop offset="1.0000" stop-color="#fafaff"/></linearGradient><linearGradient id="dr5" gradientUnits="userSpaceOnUse" x1="413.3" x2="683" y1="0" y2="0"><stop offset="0.0000" stop-color="#ffb8b8"/><stop offset="0.0148" stop-color="#ffb2b2"/><stop offset="0.0444" stop-color="#ffadad"/><stop offset="0.0741" stop-color="#ffadad"/><stop offset="0.0889" stop-color="#ffabab"/><stop offset="0.1037" stop-color="#ffc4c4"/><stop offset="0.1185" stop-color="#ffe0e0"/><stop offset="0.1481" stop-color="#fffafa"/><stop offset="0.1667" stop-color="#ffebeb"/><stop offset="0.1852" stop-color="#ffdbdb"/><stop offset="0.2037" stop-color="#ffb2b2"/><stop offset="0.2222" stop-color="#ff9494"/><stop offset="0.2444" stop-color="#ff8585"/><stop offset="0.2741" stop-color="#ff8080"/><stop offset="0.2963" stop-color="#ff8c8c"/><stop offset="0.3148" stop-color="#ff9e9e"/><stop offset="0.3296" stop-color="#ffcccc"/><stop offset="0.3444" stop-color="#fff0f0"/><stop offset="0.3556" stop-color="#ffffff"/><stop offset="0.3704" stop-color="#e0e0ff"/><stop offset="0.3926" stop-color="#dbdbff"/><stop offset="0.4111" stop-color="#e0e0ff"/><stop offset="0.4222" stop-color="#ffffff"/><stop offset="0.4370" stop-color="#ffe0e0"/><stop offset="0.4593" stop-color="#ffc7c7"/><stop offset="0.4852" stop-color="#ffbfbf"/><stop offset="0.5000" stop-color="#ffadad"/><stop offset="0.5111" stop-color="#ff8080"/><stop offset="0.5259" stop-color="#ff6666"/><stop offset="0.5481" stop-color="#ff5757"/><stop offset="0.5667" stop-color="#ff6161"/><stop offset="0.5778" stop-color="#ff8080"/><stop offset="0.5889" stop-color="#ffb2b2"/><stop offset="0.6037" stop-color="#ffe0e0"/><stop offset="0.6185" stop-color="#fffafa"/><stop offset="0.6444" stop-color="#e6e6ff"/><stop offset="0.6704" stop-color="#ededff"/><stop offset="0.6889" stop-color="#fcfcff"/><stop offset="0.7222" stop-color="#ffe6e6"/><stop offset="0.7593" stop-color="#ffe6e6"/><stop offset="0.7778" stop-color="#ffcccc"/><stop offset="0.7963" stop-color="#ffadad"/><stop offset="0.8111" stop-color="#ff9999"/><stop offset="0.8296" stop-color="#ff8c8c"/><stop offset="0.8519" stop-color="#ff8c8c"/><stop offset="0.8741" stop-color="#ff9999"/><stop offset="0.8889" stop-color="#ffbfbf"/><stop offset="0.9074" stop-color="#ffe0e0"/><stop offset="0.9259" stop-color="#fff2f2"/><stop offset="0.9481" stop-color="#e8e8ff"/><stop offset="0.9704" stop-color="#e6e6ff"/><stop offset="1.0000" stop-color="#e6e6ff"/></linearGradient><linearGradient id="dr6" gradientUnits="userSpaceOnUse" x1="413.3" x2="683" y1="0" y2="0"><stop offset="0.0000" stop-color="#ffb8b8"/><stop offset="0.0148" stop-color="#ffb2b2"/><stop offset="0.0444" stop-color="#ffadad"/><stop offset="0.0741" stop-color="#ffadad"/><stop offset="0.0889" stop-color="#ffabab"/><stop offset="0.1037" stop-color="#ffc4c4"/><stop offset="0.1185" stop-color="#ffe0e0"/><stop offset="0.1481" stop-color="#fffafa"/><stop offset="0.1667" stop-color="#ffebeb"/><stop offset="0.1852" stop-color="#ffdbdb"/><stop offset="0.2037" stop-color="#ffb2b2"/><stop offset="0.2222" stop-color="#ff9494"/><stop offset="0.2444" stop-color="#ff8585"/><stop offset="0.2741" stop-color="#ff8080"/><stop offset="0.2963" stop-color="#ff8c8c"/><stop offset="0.3148" stop-color="#ff9e9e"/><stop offset="0.3296" stop-color="#ffcccc"/><stop offset="0.3444" stop-color="#fff0f0"/><stop offset="0.3556" stop-color="#ffffff"/><stop offset="0.3704" stop-color="#e0e0ff"/><stop offset="0.3926" stop-color="#dbdbff"/><stop offset="0.4111" stop-color="#e0e0ff"/><stop offset="0.4222" stop-color="#ffffff"/><stop offset="0.4370" stop-color="#ffe0e0"/><stop offset="0.4593" stop-color="#ffc7c7"/><stop offset="0.4852" stop-color="#ffbfbf"/><stop offset="0.5000" stop-color="#ffadad"/><stop offset="0.5111" stop-color="#ff8080"/><stop offset="0.5259" stop-color="#ff6666"/><stop offset="0.5481" stop-color="#ff5757"/><stop offset="0.5667" stop-color="#ff6161"/><stop offset="0.5778" stop-color="#ff8080"/><stop offset="0.5889" stop-color="#ffb2b2"/><stop offset="0.6037" stop-color="#ffe0e0"/><stop offset="0.6185" stop-color="#fffafa"/><stop offset="0.6444" stop-color="#e6e6ff"/><stop offset="0.6704" stop-color="#ededff"/><stop offset="0.6889" stop-color="#fcfcff"/><stop offset="0.7222" stop-color="#ffe6e6"/><stop offset="0.7593" stop-color="#ffe6e6"/><stop offset="0.7778" stop-color="#ffcccc"/><stop offset="0.7963" stop-color="#ffadad"/><stop offset="0.8111" stop-color="#ff9999"/><stop offset="0.8296" stop-color="#ff8c8c"/><stop offset="0.8519" stop-color="#ff8c8c"/><stop offset="0.8741" stop-color="#ff9999"/><stop offset="0.8889" stop-color="#ffbfbf"/><stop offset="0.9074" stop-color="#ffe0e0"/><stop offset="0.9259" stop-color="#fff2f2"/><stop offset="0.9481" stop-color="#e8e8ff"/><stop offset="0.9704" stop-color="#e6e6ff"/><stop offset="1.0000" stop-color="#e6e6ff"/></linearGradient></defs>
<g clip-path="url(#clipd)"><g filter="url(#blurd)"><rect x="409.3" y="388" width="277.7" height="35.5" fill="url(#dr0)"/><rect x="409.3" y="423" width="277.7" height="40.5" fill="url(#dr1)"/><rect x="409.3" y="463" width="277.7" height="55.5" fill="url(#dr2)"/><rect x="409.3" y="518" width="277.7" height="55.5" fill="url(#dr3)"/><rect x="409.3" y="573" width="277.7" height="50.5" fill="url(#dr4)"/><rect x="409.3" y="623" width="277.7" height="40.5" fill="url(#dr5)"/><rect x="409.3" y="663" width="277.7" height="35.5" fill="url(#dr6)"/></g></g>
<rect x="413.3" y="408" width="269.7" height="269.5" fill="none" stroke="#000" stroke-width="1.6"/>
<path d="M465.4,677.5v-7M465.4,408v7M520.4,677.5v-7M520.4,408v7M575.8,677.5v-7M575.8,408v7M630.8,677.5v-7M630.8,408v7" stroke="#000" stroke-width="1.6" fill="none"/>
<path d="M413.3,417.4h7M683,417.4h-7M413.3,479.8h7M683,479.8h-7M413.3,542.2h7M683,542.2h-7M413.3,604.6h7M683,604.6h-7M413.3,667h7M683,667h-7" stroke="#000" stroke-width="1.6" fill="none"/>
<text x="465.55" y="701.6" font-size="20.5" text-anchor="middle" letter-spacing="0.3" >3.2</text>
<text x="520.55" y="701.6" font-size="20.5" text-anchor="middle" letter-spacing="0.3" >3.4</text>
<text x="575.95" y="701.6" font-size="20.5" text-anchor="middle" letter-spacing="0.3" >3.6</text>
<text x="630.95" y="701.6" font-size="20.5" text-anchor="middle" letter-spacing="0.3" >3.8</text>
<text transform="translate(406.8,417.4) rotate(-90)" x="0.15" y="0" font-size="20.5" text-anchor="middle" letter-spacing="0.3" >-40</text>
<text transform="translate(406.8,479.8) rotate(-90)" x="0.15" y="0" font-size="20.5" text-anchor="middle" letter-spacing="0.3" >-20</text>
<text transform="translate(406.8,542.2) rotate(-90)" x="0.15" y="0" font-size="20.5" text-anchor="middle" letter-spacing="0.3" >0</text>
<text transform="translate(406.8,604.6) rotate(-90)" x="0.15" y="0" font-size="20.5" text-anchor="middle" letter-spacing="0.3" >20</text>
<text transform="translate(406.8,667) rotate(-90)" x="0.15" y="0" font-size="20.5" text-anchor="middle" letter-spacing="0.3" >40</text>
<text x="505.1" y="729.5" font-size="25.5" text-anchor="start" letter-spacing="1.0" ><tspan font-style="italic">V</tspan><tspan font-style="italic" font-size="17.5" dy="5.8">BG</tspan><tspan dy="-5.8"> [V]</tspan></text>
<text x="425.8" y="432.6" font-size="18.5" text-anchor="start" letter-spacing="0.8" >d)</text>
</svg></body></html>
